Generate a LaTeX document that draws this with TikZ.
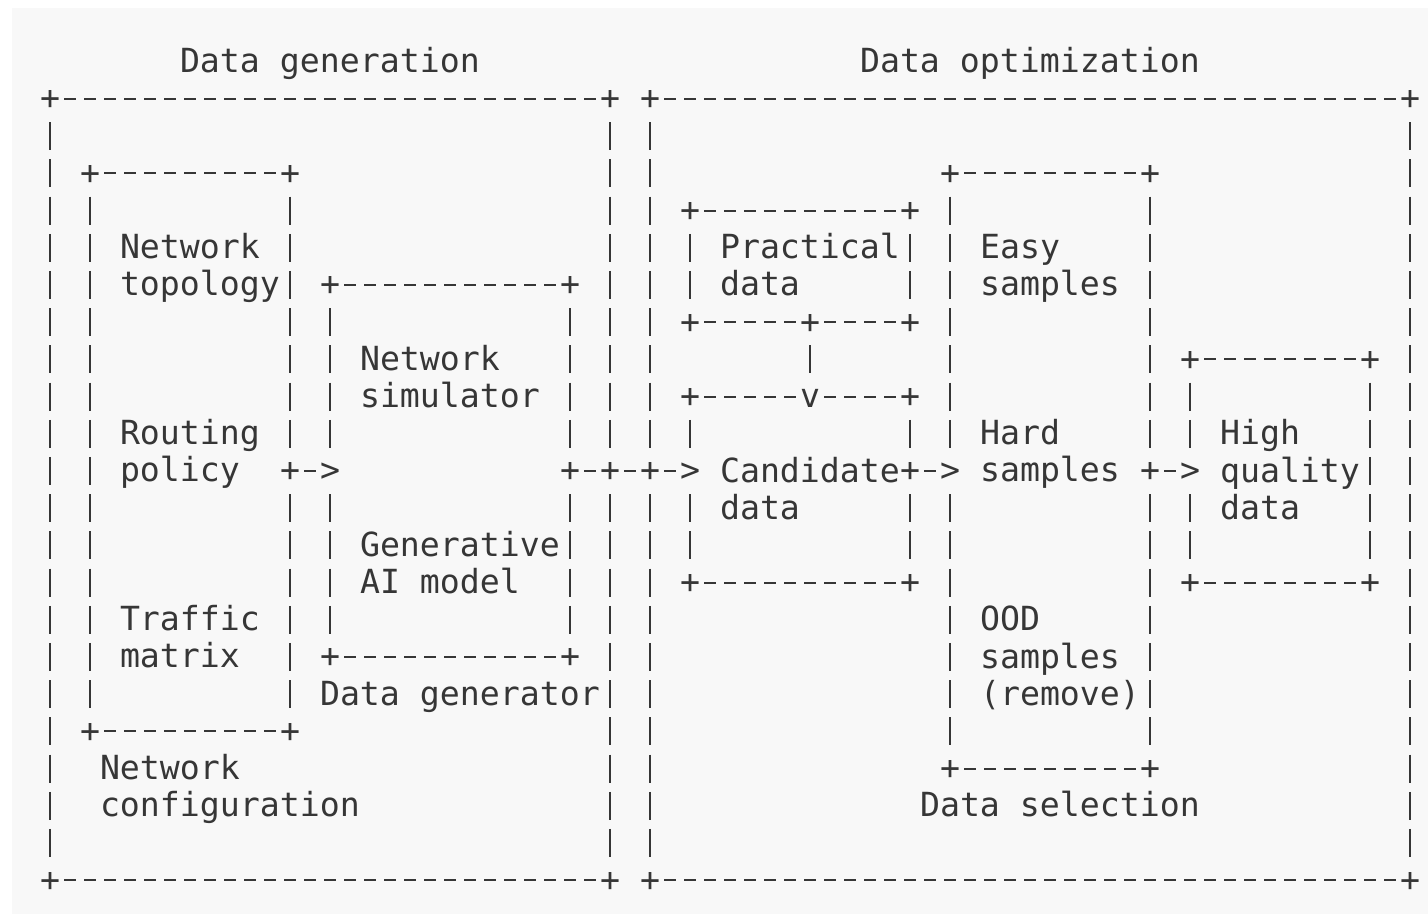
\documentclass[tikz,border=0pt]{standalone}
\usepackage{fontspec}
\newfontfamily\monofam{DejaVu Sans Mono}
\usepackage{tikz}
\usetikzlibrary{fit}
\definecolor{ink}{HTML}{363636}
\definecolor{paper}{HTML}{F8F8F8}

\begin{document}
\begin{tikzpicture}
        [
    x=0.2cm, y=-0.372cm, shift={(0.5cm,-0.618cm)},
    ascii/.style={font={\monofam\fontsize{9.45pt}{10.58pt}\selectfont}, text=ink},
    region/.style={inner sep=0pt, outer sep=0pt},
    txt/.style={ascii, inner sep=0pt, outer sep=0pt, anchor=base west, yshift=-0.11cm, align=left},
    glyph/.style={ascii, fill=paper, inner sep=0pt, outer sep=0pt, minimum width=0.2cm, minimum height=0.372cm, text height=6.26pt, text depth=0pt},
    hline/.style={draw=ink, line width=0.6pt, dash pattern=on 0.12cm off 0.08cm, dash phase=0.16cm},
    vline/.style={draw=ink, line width=0.6pt, dash pattern=on 0.28cm off 0.092cm, dash phase=0.326cm},
    edgeh/.style={hline, shorten <=0.1cm, shorten >=0.1cm},
    edgev/.style={vline, shorten <=0.186cm, shorten >=0.186cm}
    ]

    \useasboundingbox (-2.5,-1.6613) rectangle (68.9,23.016);
    \fill[paper] (-1.9,-1.446) rectangle (68.9,22.91);

    % Regions
    \node[region, fit={(0,1) (28,22)}] (gen) {};
    \node[region, fit={(30,1) (68,22)}] (opt) {};
    \node[region, fit={(2,3) (12,18)}] (cfg) {};
    \node[region, fit={(14,6) (26,16)}] (dgen) {};
    \node[region, fit={(32,4) (43,7)}] (prac) {};
    \node[region, fit={(32,9) (43,14)}] (cand) {};
    \node[region, fit={(45,3) (55,19)}] (sel) {};
    \node[region, fit={(57,8) (66,14)}] (hq) {};
    % Dashed frames
    \foreach \b in {gen,opt,cfg,dgen,prac,cand,sel,hq} {
        \draw[edgeh] (\b.north west) -- (\b.north east);
        \draw[edgeh] (\b.south west) -- (\b.south east);
        \draw[edgev] (\b.north west) -- (\b.south west);
        \draw[edgev] (\b.north east) -- (\b.south east);
        \foreach \a/\c in {north west/nw,north east/ne,south west/sw,south east/se}
            \node[glyph] (\b-\c) at (\b.\a) {+};
    }

    % Flow
    \coordinate (flow) at (0,11);
    \node[glyph] (s1) at (cfg.east |- flow) {+};
    \node[glyph] (t1) at (dgen.west |- flow) {>};
    \node[glyph] (s2) at (dgen.east |- flow) {+};
    \node[glyph] (c1) at (gen.east |- flow) {+};
    \node[glyph] (c2) at (opt.west |- flow) {+};
    \node[glyph] (t2) at (cand.west |- flow) {>};
    \node[glyph] (s3) at (cand.east |- flow) {+};
    \node[glyph] (t3) at (sel.west |- flow) {>};
    \node[glyph] (s4) at (sel.east |- flow) {+};
    \node[glyph] (t4) at (hq.west |- flow) {>};
    \draw[hline] (s1) -- (t1);
    \draw[hline] (s2) -- (c1) -- (c2) -- (t2);
    \draw[hline] (s3) -- (t3);
    \draw[hline] (s4) -- (t4);
    % Practical data into candidates
    \node[glyph] (s0) at (38,7) {+};
    \node[glyph] (t0) at (38,9) {v};
    \draw[vline] (s0) -- (t0);

    % Data generation (multi-line texts sit on their last row)
    \node[txt] (gentitle) at (6.5,0) {Data generation};
    \node[txt] (topo) at (3.5,6) {Network\\topology};
    \node[txt] (route) at (3.5,11) {Routing\\policy};
    \node[txt] (traffic) at (3.5,16) {Traffic\\matrix};
    \node[txt] (cfgname) at (2.5,20) {Network\\configuration};
    \node[txt] (sim) at (15.5,9) {Network\\simulator};
    \node[txt] (genai) at (15.5,14) {Generative\\AI model};
    \node[txt] (dgenname) at (13.5,17) {Data generator};
    % Data optimization
    \node[txt] (opttitle) at (40.5,0) {Data optimization};
    \node[txt] (practext) at (33.5,6) {Practical\\data};
    \node[txt] (candtext) at (33.5,12) {Candidate\\data};
    \node[txt] (easy) at (46.5,6) {Easy\\samples};
    \node[txt] (hard) at (46.5,11) {Hard\\samples};
    \node[txt] (ood) at (46.5,17) {OOD\\samples\\(remove)};
    \node[txt] (selname) at (43.5,20) {Data selection};
    \node[txt] (hqtext) at (58.5,12) {High\\quality\\data};
\end{tikzpicture}
\end{document}
